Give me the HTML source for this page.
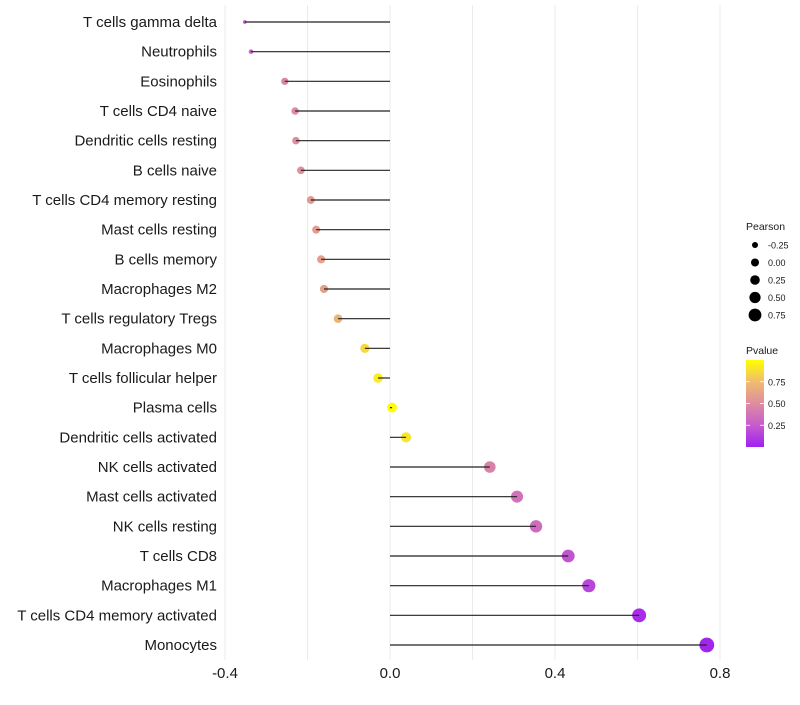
<!DOCTYPE html>
<html><head><meta charset="utf-8"><style>
body{margin:0;background:#fff;font-family:"Liberation Sans",sans-serif}
</style></head><body>
<svg id="chart" width="800" height="700" xmlns="http://www.w3.org/2000/svg" font-family="Liberation Sans, sans-serif"></svg>
<script>
const categories=["T cells gamma delta","Neutrophils","Eosinophils","T cells CD4 naive","Dendritic cells resting","B cells naive","T cells CD4 memory resting","Mast cells resting","B cells memory","Macrophages M2","T cells regulatory  Tregs ","Macrophages M0","T cells follicular helper","Plasma cells","Dendritic cells activated","NK cells activated","Mast cells activated","NK cells resting","T cells CD8","Macrophages M1","T cells CD4 memory activated","Monocytes"];
const pearson=[-0.352,-0.337,-0.255,-0.230,-0.228,-0.216,-0.192,-0.179,-0.167,-0.160,-0.126,-0.061,-0.029,0.005,0.039,0.242,0.308,0.354,0.432,0.482,0.604,0.768];
const pvalues=[0.26,0.28,0.46,0.5,0.5,0.52,0.56,0.58,0.6,0.61,0.7,0.86,0.93,0.99,0.9,0.45,0.36,0.33,0.22,0.16,0.05,0.02];
const xTicks=[-0.4,0.0,0.4,0.8];
const xTickLabels=["-0.4","0.0","0.4","0.8"];
const sizeLegend=[-0.25,0,0.25,0.5,0.75];
const sizeLegendLabels=["-0.25","0.00","0.25","0.50","0.75"];
const pLegend=[0.25,0.5,0.75];
const pLegendLabels=["0.25","0.50","0.75"];

const NS="http://www.w3.org/2000/svg";
const svg=document.getElementById('chart');
const x=v=>390+v*412.5;
const y=i=>22+i*(623/21);
const r=v=>{let a=20+38*v;if(v<-0.3)a-=(-0.3-v)*100;return Math.sqrt(Math.max(2.2,a))+0.4;};
const stops=[[0,[160,32,240]],[0.25,[198,92,205]],[0.5,[222,140,160]],[0.75,[240,188,110]],[1,[255,255,0]]];
function col(p){for(let i=1;i<stops.length;i++){if(p<=stops[i][0]){const a=stops[i-1],b=stops[i],t=(p-a[0])/(b[0]-a[0]);return 'rgb('+a[1].map((c,k)=>Math.round(c+(b[1][k]-c)*t)).join(',')+')';}}return 'rgb(255,255,0)';}
function mk(tag,attrs,parent){const e=document.createElementNS(NS,tag);for(const k in attrs)e.setAttribute(k,attrs[k]);(parent||svg).appendChild(e);return e;}

[-0.4,-0.2,0,0.2,0.4,0.6,0.8].forEach(v=>{
const g=mk('line',{x1:x(v),x2:x(v),y1:5,y2:660,stroke:'#ebebeb','stroke-width':1});


});
categories.forEach((c,i)=>{
const t=mk('text',{x:217,y:y(i)+5,'text-anchor':'end','font-size':15,fill:'#1a1a1a'});
t.textContent=c;


const d=mk('circle',{cx:x(pearson[i]),cy:y(i),r:r(pearson[i]),fill:col(pvalues[i])});


const l=mk('line',{x1:x(0),x2:x(pearson[i]),y1:y(i),y2:y(i),stroke:'#222','stroke-width':1.2});


});
xTicks.forEach((v,i)=>{
const t=mk('text',{x:x(v),y:678,'text-anchor':'middle','font-size':15,fill:'#1a1a1a'});
t.textContent=xTickLabels[i];


});
const st=mk('text',{x:746,y:230,'font-size':10.5,fill:'#1a1a1a'});st.textContent='Pearson';


const legR=[3,4,4.8,5.6,6.4];
sizeLegend.forEach((v,i)=>{
const cy=245+i*17.5;
const c=mk('circle',{cx:755,cy:cy,r:legR[i],fill:'#000'});


const t=mk('text',{x:768,y:cy+3.5,'font-size':9,fill:'#1a1a1a'});t.textContent=sizeLegendLabels[i];


});
const pt=mk('text',{x:746,y:354,'font-size':10.5,fill:'#1a1a1a'});pt.textContent='Pvalue';


const defs=mk('defs',{});
const lg=mk('linearGradient',{id:'pg',x1:0,y1:1,x2:0,y2:0},defs);
stops.forEach(s=>mk('stop',{offset:s[0],'stop-color':'rgb('+s[1].join(',')+')'},lg));
const bar=mk('rect',{x:746,y:360,width:18,height:87,fill:'url(#pg)'});


pLegend.forEach((v,i)=>{
const yy=447-v*87;
mk('line',{x1:746,x2:750,y1:yy,y2:yy,stroke:'#fff','stroke-width':0.8});
mk('line',{x1:760,x2:764,y1:yy,y2:yy,stroke:'#fff','stroke-width':0.8});
const t=mk('text',{x:768,y:yy+3.5,'font-size':9,fill:'#1a1a1a'});t.textContent=pLegendLabels[i];


});
</script>
</body></html>
